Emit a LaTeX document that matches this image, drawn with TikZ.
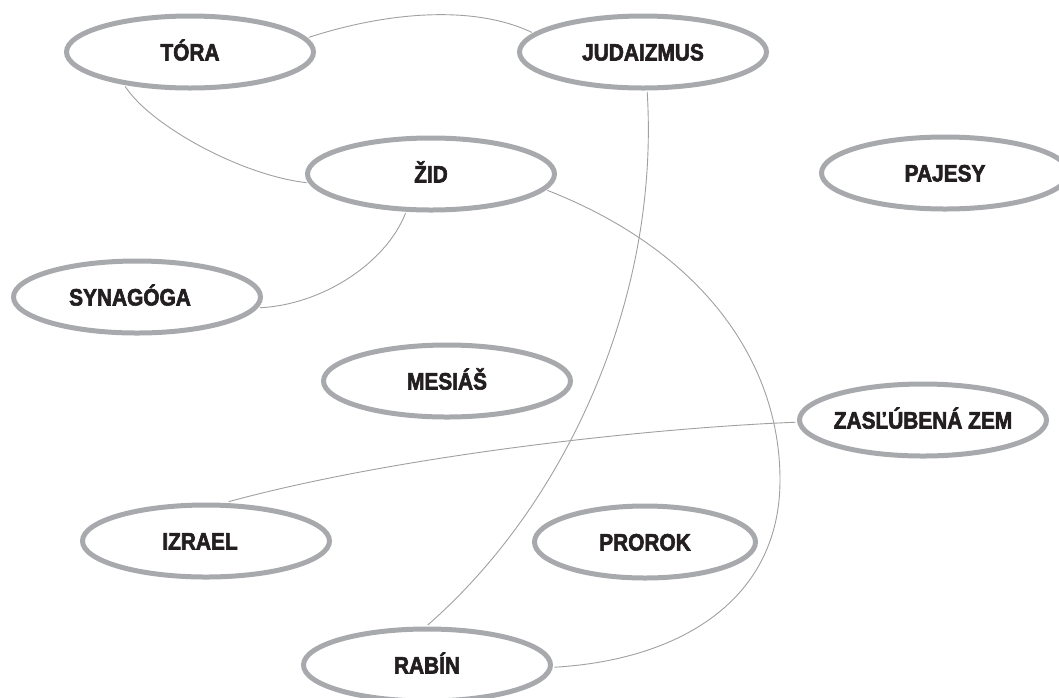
\documentclass[tikz,border=0pt]{standalone}
\usepackage{fontspec}
\setmainfont{Liberation Sans}[FakeStretch=0.88,BoldFeatures={FakeBold=2.5}]
\usetikzlibrary{shapes.geometric}
\definecolor{ringgray}{HTML}{A7A9AC}
\definecolor{linegray}{HTML}{A0A0A0}
\definecolor{ink}{HTML}{231F20}
\newcommand\zwtext[1]{\makebox[0pt]{#1}}
\begin{document}
\begin{tikzpicture}[x=1pt,y=-1pt,
  term/.style={ellipse, draw=ringgray, line width=5pt, minimum width=247pt,
    minimum height=72pt, inner sep=0pt, outer sep=4pt, text=ink,
    font=\fontsize{23.7}{28}\selectfont\bfseries, text height=17pt, text depth=0pt},
  conn/.style={draw=linegray, line width=0.9pt}]
\useasboundingbox (0,0) rectangle (1059,697);
\node[term] (tora) at (190,52)  {\zwtext{TÓRA}};
\node[term] (jud)  at (643,52)  {\zwtext{JUDAIZMUS}};
\node[term] (zid)  at (431,174) {\zwtext{ŽID}};
\node[term] (paj)  at (945,173) {\zwtext{PAJESY}};
\node[term] (syn)  at (137,297) {\zwtext{\hspace*{-14pt}SYNAGÓGA}};
\node[term] (mes)  at (447,381) {\zwtext{MESIÁŠ}};
\node[term] (zas)  at (923,420) {\zwtext{ZASĽÚBENÁ ZEM}};
\node[term] (izr)  at (206,541) {\zwtext{\hspace*{-12pt}IZRAEL}};
\node[term, minimum width=221pt] (pro) at (645,542) {\zwtext{PROROK}};
\node[term] (rab)  at (427,665) {\zwtext{RABÍN}};
\draw[conn] (tora.7) .. controls (380,14) and (470,3) .. (jud.170);
\draw[conn] (tora.208) .. controls (150,125) and (240,175) .. (zid.184);
\draw[conn] (zid.237) .. controls (385,265) and (320,305) .. (syn.355);
\draw[conn] (zid.352) .. controls (700,250) and (780,360) .. (780,480)
  .. controls (780,600) and (680,660) .. (rab.359);
\draw[conn] (jud.276) .. controls (660,300) and (565,505) .. (rab.89);
\draw[conn] (zas.181) .. controls (650,428) and (400,455) .. (izr.60);
\end{tikzpicture}
\end{document}
